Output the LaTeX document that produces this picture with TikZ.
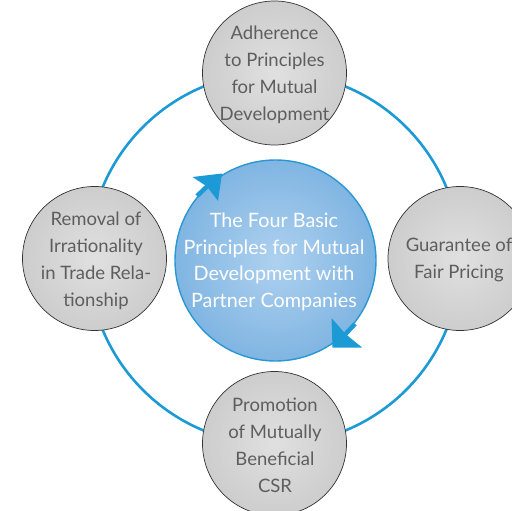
\documentclass[tikz,border=0pt]{standalone}
\usepackage{fontspec}
\setmainfont{Lato}
\definecolor{ringblue}{HTML}{1C9AD6}
\definecolor{edgeblue}{HTML}{2A97D5}
\definecolor{fillin}{HTML}{AED1EF}
\definecolor{fillout}{HTML}{80B5E2}
\definecolor{grayin}{HTML}{E0E0E0}
\definecolor{grayout}{HTML}{CDCDCD}
\definecolor{graytext}{HTML}{5E5E5E}
\begin{document}
\begin{tikzpicture}[x=1pt,y=-1pt,
  graycirc/.style={circle, draw=black!80, line width=0.7pt, minimum size=144pt, inner sep=0pt, inner color=grayin, outer color=grayout},
  graylabel/.style={text=graytext, font=\fontsize{18.5}{27}\selectfont, align=center, inner sep=0pt},
  bluecirc/.style={circle, draw=edgeblue, line width=1.4pt, minimum size=201pt, inner sep=0pt, inner color=fillin, outer color=fillout},
  bluelabel/.style={text=white, font=\fontsize{19.8}{26.5}\selectfont, align=center, inner sep=0pt},
  arrowhd/.style={fill=ringblue},
  arrowshaft/.style={draw=ringblue, line width=4.5pt}]
\useasboundingbox (0,0) rectangle (512,511);
\clip (0,0) rectangle (512,511);
\coordinate (ringc) at (274.5,258.5);
\draw[ringblue, line width=2.6pt] (ringc) circle[radius=186];
\node[bluecirc] (center) at (275.5,260.5) {};
\node[graycirc] (top) at (274.5,73) {};
\node[graycirc] (right) at (460,258.5) {};
\node[graycirc] (bottom) at (274.5,443.5) {};
\node[graycirc] (left) at (94.5,258.5) {};
% arrowheads on the central circle
\coordinate (a1base) at (207,186.5);
\coordinate (a1end) at (197,196);
\draw[arrowshaft] (a1base) -- (a1end);
\fill[arrowhd] (222,173.5) -- (192.5,177) -- (a1base) -- (218,201) -- cycle;
\coordinate (a2base) at (345.5,334);
\coordinate (a2end) at (355,324);
\draw[arrowshaft] (a2base) -- (a2end);
\fill[arrowhd] (332.5,347.5) -- (362,347.5) -- (a2base) -- (331.5,318) -- cycle;
\node[bluelabel] (centertext) at (274,262) {The Four Basic\\Principles for Mutual\\Development with\\Partner Companies};
\node[graylabel] (toptext) at (274.5,75) {Adherence\\to Principles\\for Mutual\\Development};
\node[graylabel] (righttext) at (459,260) {Guarantee of\\Fair Pricing};
\node[graylabel] (bottomtext) at (275,445) {Promotion\\of Mutually\\Beneficial\\CSR};
\node[graylabel] (lefttext) at (96,261) {Removal of\\Irrationality\\in Trade Rela-\\tionship};
\end{tikzpicture}
\end{document}
